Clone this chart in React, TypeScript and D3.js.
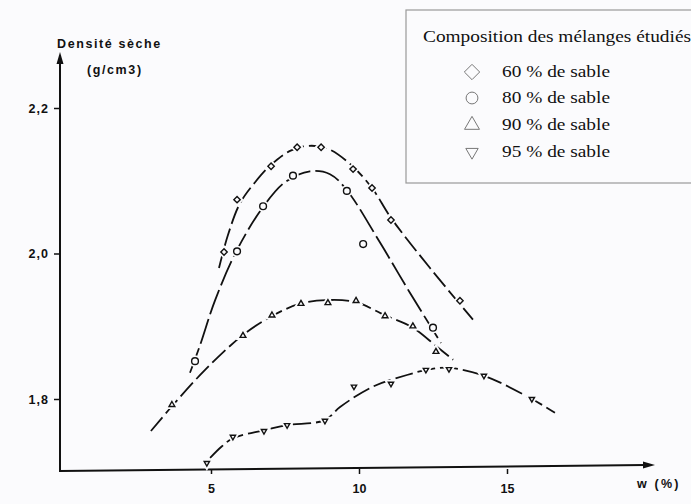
import * as d3 from "d3";
import React, { useEffect, useRef } from "react";

// x = teneur en eau w (%), y = densité sèche (g/cm3)
const xTicks = [5, 10, 15];
const yTicks = [1.8, 2.0, 2.2];

// measured points
const pts60: [number, number][] = [
  [5.44, 2.002], [5.88, 2.074], [7.03, 2.12], [7.91, 2.146], [8.72, 2.146],
  [9.8, 2.116], [10.44, 2.09], [11.08, 2.046], [13.41, 1.935],
];
const pts80: [number, number][] = [
  [4.46, 1.852], [5.88, 2.003], [6.76, 2.065], [7.77, 2.107], [9.59, 2.086],
  [10.14, 2.013], [12.5, 1.898],
];
const pts90: [number, number][] = [
  [3.68, 1.792], [6.08, 1.887], [7.06, 1.915], [8.04, 1.931], [8.95, 1.932],
  [9.9, 1.935], [10.88, 1.914], [11.82, 1.9], [12.6, 1.865],
];
const pts95: [number, number][] = [
  [4.86, 1.712], [5.74, 1.748], [6.79, 1.756], [7.57, 1.764], [8.85, 1.77],
  [9.83, 1.817], [11.08, 1.821], [12.26, 1.84], [13.04, 1.841], [14.22, 1.832],
  [15.84, 1.8],
];

// hand-drawn fitted curves
const fit60: [number, number][] = [
  [5.27, 1.98], [5.57, 2.025], [5.98, 2.069], [6.49, 2.098], [7.03, 2.122],
  [7.67, 2.141], [8.31, 2.148], [8.95, 2.144], [9.7, 2.123], [10.44, 2.09],
  [11.08, 2.049], [12.4, 1.98], [13.85, 1.909],
];
const fit80: [number, number][] = [
  [4.29, 1.836], [4.63, 1.874], [5.14, 1.936], [5.88, 2.005], [6.76, 2.064],
  [7.5, 2.098], [8.34, 2.113], [9.02, 2.109], [9.59, 2.087], [10.71, 2.015],
  [11.72, 1.946], [12.77, 1.877],
];
const fit90: [number, number][] = [
  [2.97, 1.756], [3.68, 1.79], [4.8, 1.84], [6.08, 1.888], [7.06, 1.914],
  [8.01, 1.931], [8.95, 1.936], [9.9, 1.933], [10.88, 1.915], [11.82, 1.898],
  [12.6, 1.873], [13.18, 1.854],
];
const fit95: [number, number][] = [
  [4.97, 1.719], [5.37, 1.735], [5.74, 1.746], [6.79, 1.757], [7.57, 1.764],
  [8.85, 1.771], [9.36, 1.789], [10.47, 1.817], [11.62, 1.833], [12.4, 1.841],
  [13.04, 1.843], [14.22, 1.832], [15.84, 1.8], [16.62, 1.781],
];

const legendLabels = ["60 % de sable", "80 % de sable", "90 % de sable", "95 % de sable"];

const W = 691;
const H = 504;
const BG = "#fbfbfd";

const App: React.FC = () => {
  const ref = useRef<SVGSVGElement>(null);

  useEffect(() => {
    if (!ref.current) return;
    const svg = d3.select(ref.current);
    svg.selectAll("*").remove();

    const x = d3.scaleLinear().domain([5, 15]).range([211, 507]);
    const y = d3.scaleLinear().domain([1.8, 2.2]).range([399, 108]);

    svg.append("rect").attr("width", W).attr("height", H).attr("fill", BG);

    const sans = "'Liberation Sans', Arial, sans-serif";
    const serif = "'Liberation Serif', 'Times New Roman', serif";

    // axes
    const x0 = 60;
    const yAxisBottom = 472;
    svg.append("line").attr("x1", x0).attr("y1", yAxisBottom).attr("x2", x0).attr("y2", 62)
      .attr("stroke", "#111").attr("stroke-width", 2);
    svg.append("path").attr("d", `M${x0 - 3.5},64 L${x0 + 3.5},64 L${x0},52 Z`).attr("fill", "#111");
    svg.append("line").attr("x1", x0).attr("y1", 471).attr("x2", 645).attr("y2", 465)
      .attr("stroke", "#111").attr("stroke-width", 2);
    svg.append("path").attr("d", "M643,461.5 L643,468.5 L655,465 Z").attr("fill", "#111");

    const yAxis = svg.append("g").attr("transform", `translate(${x0},0)`)
      .call(d3.axisLeft(y).tickValues(yTicks).tickSize(6).tickPadding(5)
        .tickFormat((d) => d3.format(".1f")(d as number).replace(".", ",")));
    yAxis.select(".domain").remove();
    yAxis.selectAll("line").attr("stroke", "#111").attr("stroke-width", 1.5);
    yAxis.selectAll("text").attr("fill", "#111").style("font-family", sans)
      .style("font-size", "12.5px").style("font-weight", "bold").style("letter-spacing", "1px");

    const xAxis = svg.append("g").attr("transform", "translate(0,469)")
      .call(d3.axisBottom(x).tickValues(xTicks).tickSize(5).tickPadding(10).tickFormat(d3.format("d")));
    xAxis.select(".domain").remove();
    xAxis.selectAll("line").attr("stroke", "#111").attr("stroke-width", 1.5);
    xAxis.selectAll("text").attr("fill", "#111").style("font-family", sans)
      .style("font-size", "12.5px").style("font-weight", "bold");

    const axisLabel = (t: string, tx: number, ty: number, ls: number) =>
      svg.append("text").attr("x", tx).attr("y", ty).attr("fill", "#111")
        .style("font-family", sans).style("font-size", "12.5px").style("font-weight", "bold")
        .style("letter-spacing", `${ls}px`).text(t);
    axisLabel("Densité sèche", 57, 48, 1.6);
    axisLabel("(g/cm3)", 87, 74, 1.6);
    axisLabel("w (%)", 637, 488, 2.2);

    // curves
    const line = d3.line<[number, number]>()
      .x((d) => x(d[0])).y((d) => y(d[1]))
      .curve(d3.curveCatmullRom.alpha(0.5));
    const fits = [fit60, fit80, fit90, fit95];
    fits.forEach((f, i) => {
      svg.append("path").attr("d", line(f) || "").attr("fill", "none")
        .attr("stroke", "#111").attr("stroke-width", 1.8)
        .attr("stroke-dasharray", i === 1 ? "26 5" : "18 5");
    });

    // markers
    const shapes = [
      { type: d3.symbolDiamond2, size: 26, rot: 0 },
      { type: d3.symbolCircle, size: 36, rot: 0 },
      { type: d3.symbolTriangle2, size: 24, rot: 0 },
      { type: d3.symbolTriangle2, size: 20, rot: 180 },
    ];
    const series = [pts60, pts80, pts90, pts95];
    series.forEach((pts, i) => {
      const s = shapes[i];
      const p = d3.symbol().type(s.type).size(s.size)() || "";
      const g = svg.append("g");
      g.selectAll("path.halo").data(pts).enter().append("path")
        .attr("d", p)
        .attr("transform", (d) => `translate(${x(d[0])},${y(d[1])}) rotate(${s.rot})`)
        .attr("fill", BG).attr("stroke", BG).attr("stroke-width", 5);
      g.selectAll("path.mk").data(pts).enter().append("path")
        .attr("d", p)
        .attr("transform", (d) => `translate(${x(d[0])},${y(d[1])}) rotate(${s.rot})`)
        .attr("fill", BG).attr("stroke", "#111").attr("stroke-width", 1.4);
    });

    // legend
    svg.append("rect").attr("x", 406).attr("y", 10).attr("width", 300).attr("height", 173)
      .attr("fill", BG).attr("stroke", "#999").attr("stroke-width", 1.2);
    svg.append("text").attr("x", 423).attr("y", 42).attr("fill", "#111")
      .attr("textLength", 268).attr("lengthAdjust", "spacingAndGlyphs")
      .style("font-family", serif).style("font-size", "16px")
      .text("Composition des mélanges étudiés");
    const legSizes = [150, 110, 160, 110];
    const rowY = [72, 98, 125, 152];
    legendLabels.forEach((lab, i) => {
      const s = shapes[i];
      svg.append("path").attr("d", d3.symbol().type(s.type).size(legSizes[i])() || "")
        .attr("transform", `translate(472,${rowY[i]}) rotate(${s.rot})`)
        .attr("fill", "none").attr("stroke", "#777").attr("stroke-width", 1);
      svg.append("text").attr("x", 502).attr("y", rowY[i] + 5).attr("fill", "#111")
        .attr("textLength", 108).attr("lengthAdjust", "spacingAndGlyphs")
        .style("font-family", serif).style("font-size", "16px").text(lab);
    });
  }, []);

  return (
    <div style={{ position: "fixed", left: 0, top: 0, width: W, height: H }}>
      <svg ref={ref} width={W} height={H} />
    </div>
  );
};

export default App;
